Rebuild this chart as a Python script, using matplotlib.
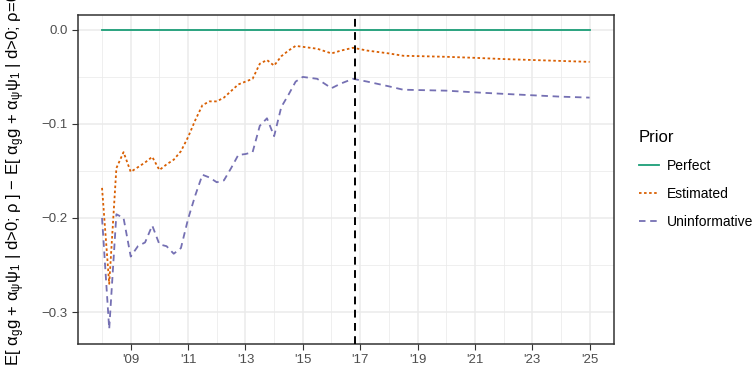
import matplotlib
matplotlib.use("Agg")
import matplotlib.pyplot as plt
from matplotlib.ticker import FixedLocator

plt.rcParams['font.family'] = ['Liberation Sans', 'DejaVu Sans']
plt.rcParams['mathtext.fontset'] = 'custom'
plt.rcParams['mathtext.rm'] = 'Liberation Sans'
plt.rcParams['mathtext.it'] = 'Liberation Sans'
plt.rcParams['mathtext.default'] = 'regular'

# time knots (fractional years)
years = [2008.0, 2008.25, 2008.5, 2008.75, 2009.0, 2009.25, 2009.5, 2009.75,
         2010.0, 2010.25, 2010.5, 2010.75, 2011.0, 2011.25, 2011.5, 2011.75,
         2012.0, 2012.25, 2012.5, 2012.75, 2013.0, 2013.25, 2013.5, 2013.75,
         2014.0, 2014.25, 2014.5, 2014.75, 2015.0, 2015.5, 2016.0, 2016.33,
         2016.75, 2017.25, 2018.0, 2018.5, 2020.0, 2021.0, 2022.0, 2023.0,
         2024.0, 2025.0]

perfect = [0.0] * len(years)

estimated = [-0.168, -0.270, -0.147, -0.130, -0.151, -0.146, -0.141, -0.135,
             -0.149, -0.143, -0.138, -0.129, -0.114, -0.096, -0.080, -0.076,
             -0.076, -0.072, -0.065, -0.058, -0.055, -0.052, -0.036, -0.032,
             -0.038, -0.028, -0.022, -0.017, -0.018, -0.020, -0.025, -0.022,
             -0.019, -0.022, -0.025, -0.0275, -0.0286, -0.0297, -0.031, -0.032,
             -0.033, -0.034]

uninformative = [-0.200, -0.318, -0.196, -0.200, -0.241, -0.230, -0.226, -0.208,
                 -0.228, -0.230, -0.238, -0.232, -0.201, -0.176, -0.154, -0.157,
                 -0.162, -0.160, -0.147, -0.133, -0.132, -0.130, -0.102, -0.094,
                 -0.113, -0.082, -0.069, -0.055, -0.050, -0.052, -0.062, -0.057,
                 -0.052, -0.055, -0.060, -0.0636, -0.0646, -0.0664, -0.068, -0.0695,
                 -0.071, -0.072]

event_year = 2016.83

major_years = list(range(2009, 2026, 2))
year_labels = ["'%02d" % (y % 100) for y in major_years]
y_major = [0.0, -0.1, -0.2, -0.3]
y_labels = ["0.0", "\u22120.1", "\u22120.2", "\u22120.3"]

grey20 = '#333333'
grey30 = '#4D4D4D'
grid_col = '#EBEBEB'

fig = plt.figure(figsize=(7.54, 3.71), dpi=100)
ax = fig.add_axes([0.103, 0.073, 0.7113, 0.8867])

# grid
ax.set_axisbelow(True)
ax.xaxis.set_minor_locator(FixedLocator(list(range(2008, 2026, 2))))
ax.yaxis.set_minor_locator(FixedLocator([-0.05, -0.15, -0.25]))
ax.grid(True, which='major', color=grid_col, linewidth=1.1)
ax.grid(True, which='minor', color=grid_col, linewidth=0.55)

ax.plot(years, perfect, color='#1B9E77', linewidth=1.3, label='Perfect', zorder=3)
ax.plot(years, estimated, color='#D95F02', linewidth=1.3, linestyle=(0, (1.4, 1.4)),
        label='Estimated', zorder=3)
ax.plot(years, uninformative, color='#7570B3', linewidth=1.3, linestyle=(0, (3.6, 2.6)),
        label='Uninformative', zorder=3)
ax.axvline(event_year, color='black', linewidth=1.4, linestyle=(0, (4, 2.8)), zorder=4)

ax.set_xlim(2007.15, 2025.85)
ax.set_ylim(-0.3339, 0.0159)
ax.set_xticks(major_years)
ax.set_xticklabels(year_labels)
ax.set_yticks(y_major)
ax.set_yticklabels(y_labels)

ax.tick_params(which='major', length=4, width=0.8, color=grey20, labelcolor=grey30,
               labelsize=9.5, pad=3)
ax.tick_params(which='minor', length=0)
for s in ax.spines.values():
    s.set_color(grey20)
    s.set_linewidth(1.1)

ylab = ("E[ $\\alpha_g$g + $\\alpha_\\psi\\psi_1$ | d>0; \u03c1 ] \u2212 "
        "E[ $\\alpha_g$g + $\\alpha_\\psi\\psi_1$ | d>0; \u03c1=0 ]")
fig.text(16 / 754, 1 - 366 / 371, ylab, rotation=90, rotation_mode='anchor',
         ha='left', va='center', fontsize=12, color='black')

leg = ax.legend(title='Prior', loc='upper left', bbox_to_anchor=(639 / 754, 1 - 130 / 371),
                bbox_transform=fig.transFigure, frameon=False, fontsize=10,
                title_fontsize=12, handlelength=1.45, handletextpad=0.55,
                labelspacing=1.0, borderpad=0, borderaxespad=0, alignment='left')

fig.savefig('out.png', dpi=100)
